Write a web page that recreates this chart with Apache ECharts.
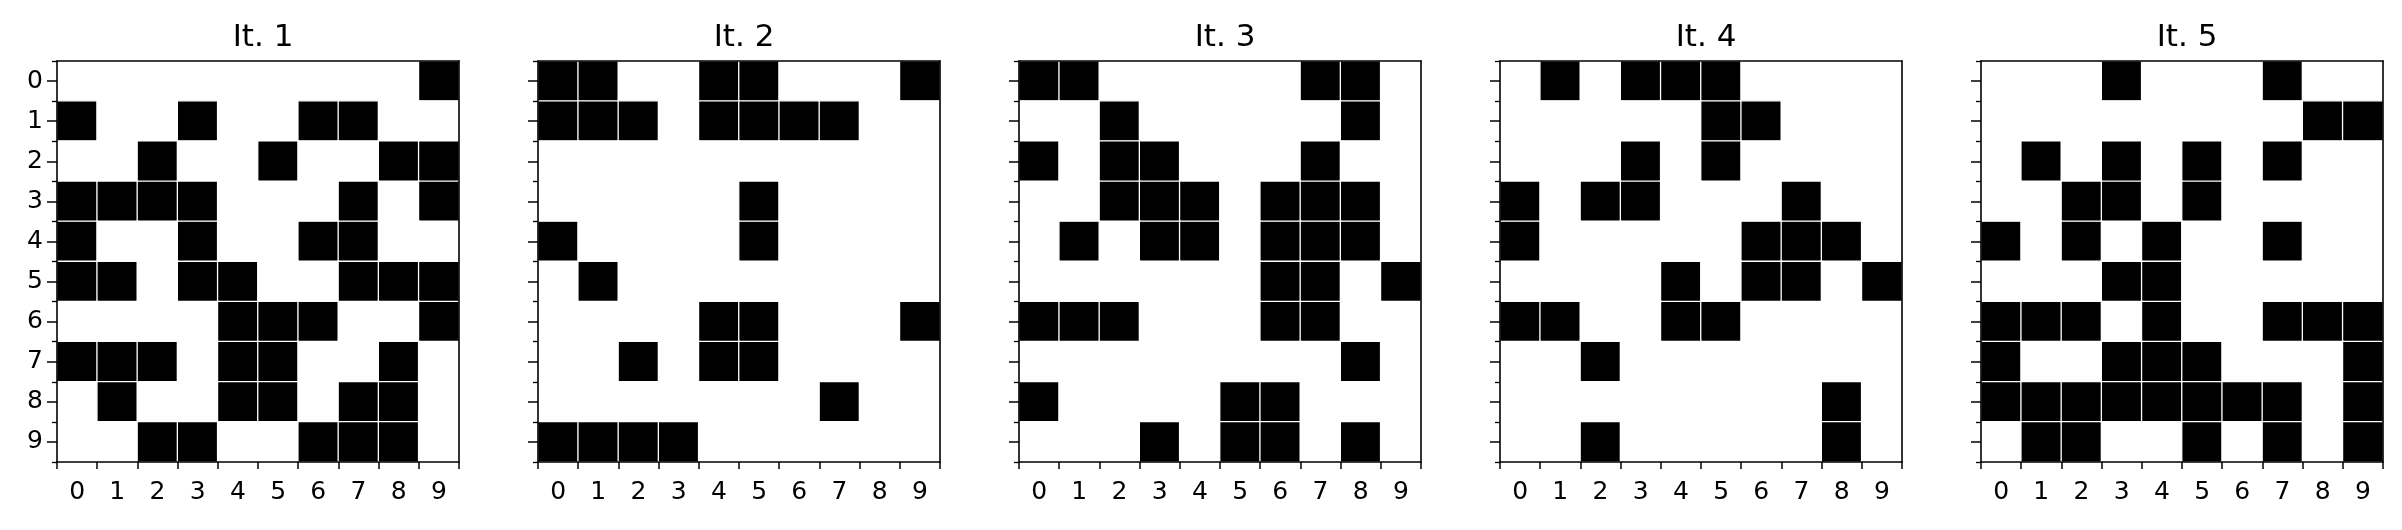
<!DOCTYPE html>
<html>
<head>
<meta charset="utf-8">
<script src="https://cdn.jsdelivr.net/npm/echarts@6/dist/echarts.min.js"></script>
<style>
html,body{margin:0;padding:0;background:#fff;}
#chart{width:2402px;height:530px;}
</style>
</head>
<body>
<div id="chart"></div>
<script>
const colLabels = ['0','1','2','3','4','5','6','7','8','9'];
const rowLabels = ['0','1','2','3','4','5','6','7','8','9'];
const panelTitles = ['It. 1','It. 2','It. 3','It. 4','It. 5'];

const it1 = [
 [0,0,0,0,0,0,0,0,0,1],
 [1,0,0,1,0,0,1,1,0,0],
 [0,0,1,0,0,1,0,0,1,1],
 [1,1,1,1,0,0,0,1,0,1],
 [1,0,0,1,0,0,1,1,0,0],
 [1,1,0,1,1,0,0,1,1,1],
 [0,0,0,0,1,1,1,0,0,1],
 [1,1,1,0,1,1,0,0,1,0],
 [0,1,0,0,1,1,0,1,1,0],
 [0,0,1,1,0,0,1,1,1,0]
];
const it2 = [
 [1,1,0,0,1,1,0,0,0,1],
 [1,1,1,0,1,1,1,1,0,0],
 [0,0,0,0,0,0,0,0,0,0],
 [0,0,0,0,0,1,0,0,0,0],
 [1,0,0,0,0,1,0,0,0,0],
 [0,1,0,0,0,0,0,0,0,0],
 [0,0,0,0,1,1,0,0,0,1],
 [0,0,1,0,1,1,0,0,0,0],
 [0,0,0,0,0,0,0,1,0,0],
 [1,1,1,1,0,0,0,0,0,0]
];
const it3 = [
 [1,1,0,0,0,0,0,1,1,0],
 [0,0,1,0,0,0,0,0,1,0],
 [1,0,1,1,0,0,0,1,0,0],
 [0,0,1,1,1,0,1,1,1,0],
 [0,1,0,1,1,0,1,1,1,0],
 [0,0,0,0,0,0,1,1,0,1],
 [1,1,1,0,0,0,1,1,0,0],
 [0,0,0,0,0,0,0,0,1,0],
 [1,0,0,0,0,1,1,0,0,0],
 [0,0,0,1,0,1,1,0,1,0]
];
const it4 = [
 [0,1,0,1,1,1,0,0,0,0],
 [0,0,0,0,0,1,1,0,0,0],
 [0,0,0,1,0,1,0,0,0,0],
 [1,0,1,1,0,0,0,1,0,0],
 [1,0,0,0,0,0,1,1,1,0],
 [0,0,0,0,1,0,1,1,0,1],
 [1,1,0,0,1,1,0,0,0,0],
 [0,0,1,0,0,0,0,0,0,0],
 [0,0,0,0,0,0,0,0,1,0],
 [0,0,1,0,0,0,0,0,1,0]
];
const it5 = [
 [0,0,0,1,0,0,0,1,0,0],
 [0,0,0,0,0,0,0,0,1,1],
 [0,1,0,1,0,1,0,1,0,0],
 [0,0,1,1,0,1,0,0,0,0],
 [1,0,1,0,1,0,0,1,0,0],
 [0,0,0,1,1,0,0,0,0,0],
 [1,1,1,0,1,0,0,1,1,1],
 [1,0,0,1,1,1,0,0,0,1],
 [1,1,1,1,1,1,1,1,0,1],
 [0,1,1,0,0,1,0,1,0,1]
];
const grids = [it1, it2, it3, it4, it5];

const FONT = 'DejaVu Sans';
const GL = 57, GSTEP = 481, GW = 402, GT = 61, GH = 401;
const LINE = {color: '#000', width: 1.6};

const option = {
  backgroundColor: '#ffffff',
  animation: false,
  title: [], grid: [], xAxis: [], yAxis: [], series: [],
  visualMap: {
    type: 'piecewise', show: false, dimension: 2,
    pieces: [{value: 0, color: '#ffffff'}, {value: 1, color: '#000000'}],
    seriesIndex: [0,1,2,3,4]
  }
};

grids.forEach((g, i) => {
  const left = GL + GSTEP * i;
  option.title.push({
    text: panelTitles[i], left: left + GW / 2, top: 17, textAlign: 'center',
    textStyle: {fontFamily: FONT, fontSize: 31, fontWeight: 'normal', color: '#000'}
  });
  option.grid.push({
    left: left, top: GT, width: GW, height: GH,
    show: false
  });
  // bottom x axis: ticks at cell boundaries, labels centred
  option.xAxis.push({
    type: 'category', gridIndex: i, data: colLabels, position: 'bottom', z: 10,
    axisLine: {show: true, lineStyle: LINE},
    axisTick: {show: true, length: 7, lineStyle: {color: '#000', width: 1.5}},
    axisLabel: {show: true, margin: 18, fontFamily: FONT, fontSize: 25, color: '#000', interval: 0},
    splitLine: {show: false}
  });
  // top frame line
  option.xAxis.push({
    type: 'category', gridIndex: i, data: colLabels, position: 'top', z: 10,
    axisLine: {show: true, lineStyle: LINE},
    axisTick: {show: false}, axisLabel: {show: false}, splitLine: {show: false}
  });
  // major y ticks at cell centres (with labels on first panel)
  option.yAxis.push({
    type: 'category', gridIndex: i, data: rowLabels, inverse: true, position: 'left', z: 10,
    axisLine: {show: true, lineStyle: LINE},
    axisTick: {show: true, alignWithLabel: true, length: 10, lineStyle: {color: '#000', width: 1.5}},
    axisLabel: {show: i === 0, margin: 14, fontFamily: FONT, fontSize: 25, color: '#000', interval: 0},
    splitLine: {show: false}
  });
  // minor y ticks at cell boundaries
  option.yAxis.push({
    type: 'category', gridIndex: i, data: rowLabels, inverse: true, position: 'left', z: 10,
    axisLine: {show: false},
    axisTick: {show: true, alignWithLabel: false, length: 5, interval: 0, lineStyle: {color: '#000', width: 1.3}},
    axisLabel: {show: false},
    splitLine: {show: false}
  });
  // right frame line
  option.yAxis.push({
    type: 'category', gridIndex: i, data: rowLabels, inverse: true, position: 'right', z: 10,
    axisLine: {show: true, lineStyle: LINE},
    axisTick: {show: false}, axisLabel: {show: false}, splitLine: {show: false}
  });
  const data = [];
  g.forEach((row, r) => row.forEach((v, c) => data.push([c, r, v])));
  option.series.push({
    type: 'heatmap', xAxisIndex: 2 * i, yAxisIndex: 3 * i, data: data,
    itemStyle: {borderColor: '#ffffff', borderWidth: 1.3},
    emphasis: {disabled: true}
  });
});

const chart = echarts.init(document.getElementById('chart'), null, {renderer: 'canvas'});
chart.setOption(option);
</script>
</body>
</html>
